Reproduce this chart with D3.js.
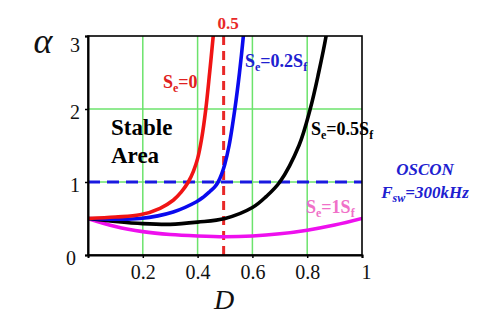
<!DOCTYPE html>
<html>
<head>
<meta charset="utf-8">
<script src="https://cdn.jsdelivr.net/npm/d3@7"></script>
<style>
  body { margin: 0; background: #fff; }
  svg text { font-family: "Liberation Serif", "Times New Roman", serif; }
</style>
</head>
<body>
<svg id="chart" width="490" height="320"></svg>
<script>
// alpha vs duty cycle
var dRed = [0, 0.1, 0.19, 0.263, 0.311, 0.34, 0.366, 0.385, 0.40, 0.415, 0.43, 0.444, 0.457, 0.466];
var aRed = [0.5, 0.52, 0.55, 0.64, 0.75, 0.86, 1.0, 1.15, 1.32, 1.6, 2.0, 2.5, 3.0, 3.4];

var dBlue = [0, 0.1, 0.19, 0.311, 0.396, 0.42, 0.445, 0.462, 0.475, 0.488, 0.499, 0.515, 0.536, 0.553, 0.567, 0.576];
var aBlue = [0.5, 0.49, 0.5, 0.59, 0.73, 0.79, 0.87, 0.93, 1.0, 1.11, 1.24, 1.5, 2.0, 2.5, 3.0, 3.4];

var dBlack = [0, 0.1, 0.2, 0.3, 0.4, 0.5, 0.6, 0.65, 0.7, 0.77, 0.811, 0.842, 0.869, 0.885];
var aBlack = [0.5, 0.46, 0.43, 0.42, 0.45, 0.5, 0.65, 0.8, 1.0, 1.5, 2.0, 2.5, 3.0, 3.4];

var dPink = [0, 0.1, 0.2, 0.3, 0.4, 0.5, 0.6, 0.7, 0.8, 0.9, 1.0];
var aPink = [0.5, 0.39, 0.32, 0.28, 0.26, 0.25, 0.26, 0.29, 0.34, 0.41, 0.5];

var xTicks = [0.2, 0.4, 0.6, 0.8, 1];
var yTicks = [0, 1, 2, 3];
var xGrid = [0.2, 0.4, 0.6, 0.8];
var yGrid = [1, 2];
var limitD = 0.495;   // red dashed marker
var limitA = 1;       // blue dashed OSCON line

var svg = d3.select("#chart");
var x = d3.scaleLinear().domain([0, 1]).range([88, 362]);
var y = d3.scaleLinear().domain([0, 3]).range([255, 36]);

svg.append("defs").append("clipPath").attr("id", "plotclip")
  .append("rect")
    .attr("x", x(0)).attr("y", y(3))
    .attr("width", x(1) - x(0)).attr("height", y(0) - y(3));

// green grid
svg.selectAll(".vgrid").data(xGrid).enter().append("line")
  .attr("x1", d => x(d)).attr("x2", d => x(d))
  .attr("y1", y(0)).attr("y2", y(3))
  .attr("stroke", "#6ce36c").attr("stroke-width", 1.5);
svg.selectAll(".hgrid").data(yGrid).enter().append("line")
  .attr("x1", x(0)).attr("x2", x(1))
  .attr("y1", d => y(d)).attr("y2", d => y(d))
  .attr("stroke", "#6ce36c").attr("stroke-width", 1.5);

// dashed reference lines
svg.append("line")
  .attr("x1", x(0)).attr("x2", x(1))
  .attr("y1", y(limitA)).attr("y2", y(limitA))
  .attr("stroke", "#1a1ae0").attr("stroke-width", 2.8)
  .attr("stroke-dasharray", "12,7");
svg.append("line")
  .attr("x1", x(limitD)).attr("x2", x(limitD))
  .attr("y1", y(3)).attr("y2", y(0))
  .attr("stroke", "#e82828").attr("stroke-width", 3)
  .attr("stroke-dasharray", "9,6");

// curves
var line = d3.line()
  .x(d => x(d[0]))
  .y(d => y(d[1]))
  .curve(d3.curveCatmullRom.alpha(0.5));

var series = [
  { d: dPink, a: aPink, color: "#ee10ee" },
  { d: dBlack, a: aBlack, color: "#000000" },
  { d: dBlue, a: aBlue, color: "#0a0aee" },
  { d: dRed, a: aRed, color: "#f01414" }
];
var gCurves = svg.append("g").attr("clip-path", "url(#plotclip)");
series.forEach(s => {
  gCurves.append("path")
    .datum(d3.zip(s.d, s.a))
    .attr("d", line)
    .attr("fill", "none")
    .attr("stroke", s.color)
    .attr("stroke-width", 3.6)
    .attr("stroke-linecap", "round");
});

// frame
svg.append("rect")
  .attr("x", x(0)).attr("y", y(3))
  .attr("width", x(1) - x(0)).attr("height", y(0) - y(3))
  .attr("fill", "none").attr("stroke", "#000").attr("stroke-width", 1.6);

// axes
var xAxis = svg.append("g")
  .attr("transform", `translate(0,${y(0)})`)
  .call(d3.axisBottom(x).tickValues(xTicks).tickFormat(d3.format("")).tickSize(3).tickPadding(7));
var yAxis = svg.append("g")
  .attr("transform", `translate(${x(0)},0)`)
  .call(d3.axisLeft(y).tickValues(yTicks).tickFormat(d3.format("d")).tickSize(3).tickPadding(5));
[xAxis, yAxis].forEach(g => {
  g.select(".domain").attr("stroke", "#000").attr("stroke-width", 2);
  g.selectAll(".tick line").attr("stroke", "#000").attr("stroke-width", 1.5);
  g.selectAll(".tick text")
    .attr("font-family", "Liberation Serif, serif")
    .attr("font-size", 20).attr("fill", "#111");
});
xAxis.selectAll(".tick text").attr("dx", d => d == 1 ? 4 : 0);
yAxis.selectAll(".tick text").attr("dy", d => d == 3 ? "0.75em" : "0.45em")
  .attr("dx", d => d == 0 ? -4 : 0);

// axis titles
svg.append("text").attr("x", 43).attr("y", 53)
  .attr("text-anchor", "middle")
  .attr("font-size", 36).attr("font-style", "italic")
  .attr("fill", "#111").text("α");
svg.append("text").attr("x", 224).attr("y", 309)
  .attr("text-anchor", "middle")
  .attr("font-size", 28).attr("font-style", "italic")
  .attr("fill", "#111").text("D");

svg.append("text").attr("x", 228).attr("y", 29)
  .attr("text-anchor", "middle")
  .attr("font-size", 17).attr("font-weight", "bold")
  .attr("fill", "#e82828").text("0.5");

// S_e labels with subscripts
function seLabel(px, py, color, mid, tail) {
  var t = svg.append("text").attr("x", px).attr("y", py)
    .attr("font-size", 18).attr("font-weight", "bold").attr("fill", color);
  t.append("tspan").text("S");
  t.append("tspan").attr("font-size", 12).attr("dy", 4).text("e");
  t.append("tspan").attr("dy", -4).text(mid);
  if (tail) t.append("tspan").attr("font-size", 12).attr("dy", 4).text(tail);
}
seLabel(163, 88, "#e02020", "=0", null);
seLabel(245, 67, "#2020d0", "=0.2S", "f");
seLabel(311, 135, "#000", "=0.5S", "f");
seLabel(306, 213, "#f070c8", "=1S", "f");

// stable area
svg.append("text").attr("x", 111).attr("y", 135)
  .attr("font-family", "Liberation Sans, Arial, sans-serif")
  .attr("font-size", 23).attr("font-weight", "bold").attr("fill", "#000")
  .text("Stable");
svg.append("text").attr("x", 111).attr("y", 163)
  .attr("font-family", "Liberation Sans, Arial, sans-serif")
  .attr("font-size", 23).attr("font-weight", "bold").attr("fill", "#000")
  .text("Area");

// capacitor note
svg.append("text").attr("x", 425).attr("y", 175)
  .attr("text-anchor", "middle")
  .attr("font-size", 17).attr("font-weight", "bold").attr("font-style", "italic")
  .attr("fill", "#2020d0").text("OSCON");
var fsw = svg.append("text").attr("x", 425).attr("y", 198)
  .attr("text-anchor", "middle")
  .attr("font-size", 17).attr("font-weight", "bold").attr("font-style", "italic")
  .attr("fill", "#2020d0");
fsw.append("tspan").text("F");
fsw.append("tspan").attr("font-size", 12).attr("dy", 4).text("sw");
fsw.append("tspan").attr("dy", -4).text("=300kHz");
</script>
</body>
</html>
